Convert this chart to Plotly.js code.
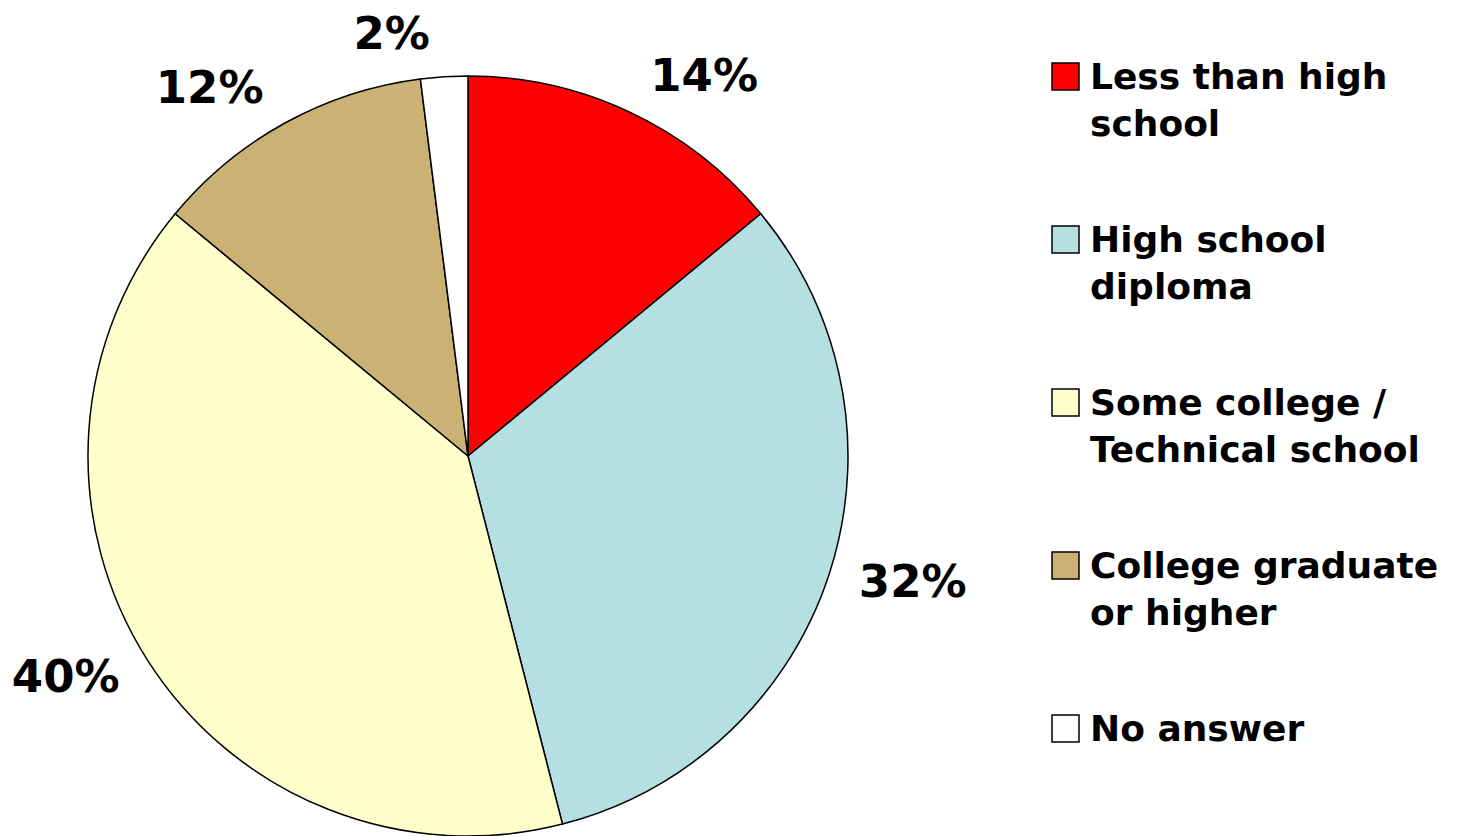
<!DOCTYPE html>
<html>
<head>
<meta charset="utf-8">
<script src="https://cdn.plot.ly/plotly-3.0.1.min.js"></script>
<style>html,body{margin:0;padding:0;background:#fff;overflow:hidden;}#wrap{width:1465px;height:836px;overflow:hidden;}</style>
</head>
<body>
<div id="wrap"><div id="chart"></div></div>
<script>
const categories = ["Less than high school", "High school diploma", "Some college / Technical school", "College graduate or higher", "No answer"];
const legendLines = ["Less than high<br>school", "High school<br>diploma", "Some college /<br>Technical school", "College graduate<br>or higher", "No answer"];
const values = [14, 32, 40, 12, 2];
const colors = ["#FF0000", "#B4E0E4", "#FFFFCC", "#CCB175", "#FFFFFF"];

const W = 1465, H = 920; // figure taller than viewport; bottom is clipped
const FONT = "'DejaVu Sans', Verdana, Tahoma, sans-serif";
const cx = 468, cy = 456, R = 380, RL = 397;

const pie = {
  type: "pie",
  labels: categories,
  values: values,
  sort: false,
  direction: "clockwise",
  rotation: 0,
  marker: {colors: colors, line: {color: "#000", width: 1.5}},
  textinfo: "none",
  domain: {x: [(cx - R) / W, (cx + R) / W], y: [1 - (cy + R) / H, 1 - (cy - R) / H]},
  showlegend: false,
  hoverinfo: "label+percent"
};

// transparent copy of the pie, slightly larger, carrying the outside percentage labels
const labelPie = {
  type: "pie",
  labels: categories,
  values: values,
  sort: false,
  direction: "clockwise",
  rotation: 0,
  marker: {colors: values.map(() => "rgba(0,0,0,0)"), line: {width: 0}},
  textposition: "outside",
  texttemplate: "<b>%{value}%</b>",
  textfont: {family: FONT, size: 45, color: "#000"},
  domain: {x: [(cx - RL) / W, (cx + RL) / W], y: [1 - (cy + RL) / H, 1 - (cy - RL) / H]},
  showlegend: false,
  hoverinfo: "skip"
};

// custom legend
const shapes = [], annotations = [];
const legTop0 = 63, legStep = 163, sq = 27, sqX = 1052, txtX = 1088;
categories.forEach((c, i) => {
  const top = legTop0 + i * legStep;
  shapes.push({type: "rect", xref: "paper", yref: "paper",
    x0: sqX / W, x1: (sqX + sq) / W, y0: 1 - (top + sq) / H, y1: 1 - top / H,
    fillcolor: colors[i], line: {color: "#000", width: 1.5}});
  annotations.push({xref: "paper", yref: "paper", x: txtX / W, y: 1 - (top - 9) / H,
    xanchor: "left", yanchor: "top", align: "left", showarrow: false,
    text: "<b>" + legendLines[i] + "</b>",
    font: {family: FONT, size: 36, color: "#000"}});
});

const layout = {
  width: W, height: H,
  margin: {l: 0, r: 0, t: 0, b: 0},
  paper_bgcolor: "#fff",
  showlegend: false,
  shapes: shapes,
  annotations: annotations
};

Plotly.newPlot("chart", [pie, labelPie], layout, {displayModeBar: false, staticPlot: true});
</script>
</body>
</html>
